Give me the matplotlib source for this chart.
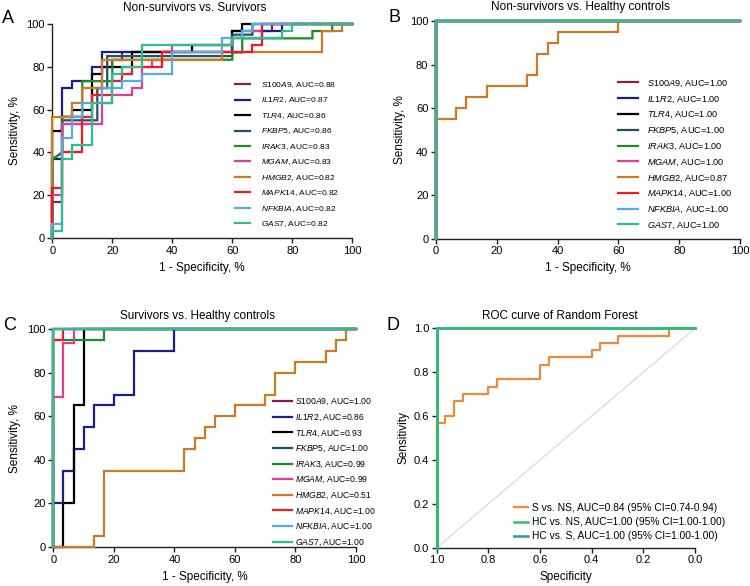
import matplotlib
matplotlib.use('Agg')
import matplotlib.pyplot as plt

plt.rcParams['font.family'] = ['Liberation Sans', 'DejaVu Sans']
plt.rcParams['mathtext.fontset'] = 'custom'
plt.rcParams['mathtext.it'] = 'Liberation Sans:italic'
plt.rcParams['mathtext.rm'] = 'Liberation Sans'
plt.rcParams['mathtext.default'] = 'regular'

# ---------------- data ----------------
genes = ['S100A9', 'IL1R2', 'TLR4', 'FKBP5', 'IRAK3', 'MGAM', 'HMGB2', 'MAPK14', 'NFKBIA', 'GAS7']
gene_colors = ['#8B1C48', '#1B1F8A', '#000000', '#1E5366', '#1E8B24',
               '#E23D95', '#CD7A25', '#EE1C24', '#5AA9E6', '#2BBF8A']

auc_a = [0.88, 0.87, 0.86, 0.86, 0.83, 0.83, 0.82, 0.82, 0.82, 0.82]
auc_b = [1.00, 1.00, 1.00, 1.00, 1.00, 1.00, 0.87, 1.00, 1.00, 1.00]
auc_c = [1.00, 0.86, 0.93, 1.00, 0.99, 0.99, 0.51, 1.00, 1.00, 1.00]

# Panel A: Non-survivors vs. Survivors  (1-specificity %, sensitivity %)
A_S100A9 = [(0, 0), (0, 16.7), (3.3, 16.7), (3.3, 53.3), (13.3, 53.3), (13.3, 70), (16.7, 70), (16.7, 80),
            (20, 80), (20, 83.3), (23.3, 83.3), (23.3, 86.7), (60, 86.7), (60, 93.3), (70, 93.3),
            (70, 96.7), (73.3, 96.7), (73.3, 100), (100, 100)]
A_IL1R2 = [(0, 0), (0, 36.7), (3.3, 36.7), (3.3, 70), (6.7, 70), (6.7, 73.3), (13.3, 73.3), (13.3, 80),
           (16.7, 80), (16.7, 86.7), (60, 86.7), (60, 96.7), (76.7, 96.7), (76.7, 100), (100, 100)]
A_TLR4 = [(0, 0), (0, 50), (3.3, 50), (3.3, 56.7), (6.7, 56.7), (6.7, 60), (13.3, 60), (13.3, 76.7),
          (16.7, 76.7), (16.7, 80), (26.7, 80), (26.7, 86.7), (46.7, 86.7), (46.7, 90), (60, 90),
          (60, 96.7), (63.3, 96.7), (63.3, 100), (100, 100)]
A_FKBP5 = [(0, 0), (0, 36.7), (3.3, 40), (3.3, 55), (15, 55), (15, 70), (18.3, 70), (18.3, 85),
           (60, 85), (60, 95), (66.7, 95), (66.7, 100), (100, 100)]
A_IRAK3 = [(0, 0), (0, 36.7), (3.3, 40), (3.3, 56.7), (10, 56.7), (10, 73.3), (20, 73.3), (20, 83.3),
           (60, 83.3), (60, 86.7), (63.3, 86.7), (63.3, 93.3), (86.7, 93.3), (86.7, 96.7), (93.3, 96.7),
           (93.3, 100), (100, 100)]
A_MGAM = [(0, 0), (0, 20), (3.3, 20), (3.3, 53.3), (16.7, 53.3), (16.7, 63.3), (20, 63.3), (20, 66.7),
          (26.7, 66.7), (26.7, 70), (30, 70), (30, 80), (33.3, 80), (33.3, 83.3), (40, 83.3), (40, 90),
          (60, 90), (60, 93.3), (63.3, 93.3), (63.3, 96.7), (70, 96.7), (70, 100), (100, 100)]
A_HMGB2 = [(0, 0), (0, 56.7), (6.7, 56.7), (6.7, 63.3), (10, 63.3), (10, 70), (16.7, 70), (16.7, 83.3),
           (56.7, 83.3), (56.7, 86.7), (90, 86.7), (90, 96.7), (96.7, 96.7), (96.7, 100), (100, 100)]
A_MAPK14 = [(0, 0), (0, 23.3), (3.3, 23.3), (3.3, 40), (10, 40), (10, 56.7), (13.3, 56.7), (13.3, 66.7),
            (20, 66.7), (20, 73.3), (23.3, 73.3), (23.3, 76.7), (26.7, 76.7), (26.7, 80), (36.7, 80),
            (36.7, 86.7), (66.7, 86.7), (66.7, 90), (70, 90), (70, 100), (100, 100)]
A_NFKBIA = [(0, 0), (0, 6.7), (3.3, 6.7), (3.3, 46.7), (6.7, 46.7), (6.7, 56.7), (10, 56.7), (10, 63.3),
            (16.7, 63.3), (16.7, 70), (23.3, 70), (23.3, 73.3), (30, 73.3), (30, 76.7), (40, 76.7),
            (40, 86.7), (56.7, 86.7), (56.7, 93.3), (63.3, 93.3), (63.3, 96.7), (66.7, 96.7),
            (66.7, 100), (100, 100)]
A_GAS7 = [(0, 0), (0, 3.3), (3.3, 3.3), (3.3, 36.7), (6.7, 36.7), (6.7, 43.3), (13.3, 43.3), (13.3, 63.3),
          (20, 63.3), (20, 76.7), (23.3, 76.7), (23.3, 80), (30, 80), (30, 90), (60, 90), (60, 93.3),
          (76.7, 93.3), (76.7, 96.7), (80, 96.7), (80, 100), (100, 100)]

# perfect classifier curve (used in B and C)
PERFECT = [(0, 0), (0, 100), (100, 100)]

# Panel B: Non-survivors vs. Healthy controls
B_HMGB2 = [(0, 0), (0, 55), (6.7, 55), (6.7, 60), (10, 60), (10, 65), (16.7, 65), (16.7, 70), (30, 70),
           (30, 75), (33.3, 75), (33.3, 85), (36.7, 85), (36.7, 90), (40, 90), (40, 95), (60, 95),
           (60, 100), (100, 100)]

# Panel C: Survivors vs. Healthy controls
C_IL1R2 = [(0, 0), (0, 20), (3.3, 20), (3.3, 35), (6.7, 35), (6.7, 45), (10, 45), (10, 55), (13.3, 55),
           (13.3, 65), (20, 65), (20, 70), (26.7, 70), (26.7, 90), (40, 90), (40, 100), (100, 100)]
C_TLR4 = [(0, 0), (3.3, 0), (3.3, 20), (6.7, 20), (6.7, 65), (10, 65), (10, 100), (100, 100)]
C_IRAK3 = [(0, 0), (0, 95), (16.7, 95), (16.7, 100), (100, 100)]
C_MGAM = [(0, 0), (0, 68.75), (3.3, 68.75), (3.3, 93.75), (6.7, 93.75), (6.7, 100), (100, 100)]
C_HMGB2 = [(0, 0), (13.3, 0), (13.3, 5), (16.7, 5), (16.7, 35), (43.3, 35), (43.3, 45), (46.7, 45),
           (46.7, 50), (50, 50), (50, 55), (53.3, 55), (53.3, 60), (60, 60), (60, 65), (70, 65), (70, 70),
           (73.3, 70), (73.3, 80), (80, 80), (80, 85), (90, 85), (90, 90), (93.3, 90), (93.3, 95),
           (96.7, 95), (96.7, 100), (100, 100)]
C_MAPK14 = [(0, 0), (0, 95), (3.3, 95), (3.3, 100), (100, 100)]

# Panel D: Random forest ROC (specificity, sensitivity)
D_labels = ['S vs. NS, AUC=0.84 (95% CI=0.74-0.94)',
            'HC vs. NS, AUC=1.00 (95% CI=1.00-1.00)',
            'HC vs. S, AUC=1.00 (95% CI=1.00-1.00)']
D_colors = ['#EE8A3A', '#2DBE6C', '#2A97B5']
D_S_NS = [(1.0, 0.0), (1.0, 0.567), (0.967, 0.567), (0.967, 0.6), (0.933, 0.6), (0.933, 0.667),
          (0.9, 0.667), (0.9, 0.7), (0.8, 0.7), (0.8, 0.733), (0.767, 0.733), (0.767, 0.767),
          (0.6, 0.767), (0.6, 0.833), (0.567, 0.833), (0.567, 0.867), (0.4, 0.867), (0.4, 0.9),
          (0.367, 0.9), (0.367, 0.933), (0.3, 0.933), (0.3, 0.967), (0.1, 0.967), (0.1, 1.0), (0.0, 1.0)]
D_HC_NS = [(1.0, 0.0), (1.0, 1.0), (0.0, 1.0)]
D_HC_S = [(1.0, 0.0), (1.0, 1.0), (0.0, 1.0)]
D_REF = [(1.0, 0.0), (0.0, 1.0)]

curves_a = [A_S100A9, A_IL1R2, A_TLR4, A_FKBP5, A_IRAK3, A_MGAM, A_HMGB2, A_MAPK14, A_NFKBIA, A_GAS7]
curves_b = [PERFECT] * 6 + [B_HMGB2] + [PERFECT] * 3
curves_c = [PERFECT, C_IL1R2, C_TLR4, PERFECT, C_IRAK3, C_MGAM, C_HMGB2, C_MAPK14, PERFECT, PERFECT]

# ---------------- figure ----------------
W, H = 750, 586
fig = plt.figure(figsize=(W / 100, H / 100), dpi=100)


def axes_px(l, t, r, b):
    return fig.add_axes([l / W, 1 - b / H, (r - l) / W, (b - t) / H])


def style(ax):
    for s in ['top', 'right']:
        ax.spines[s].set_visible(False)
    for s in ['left', 'bottom']:
        ax.spines[s].set_linewidth(1.0)
        ax.spines[s].set_color('#222222')
    ax.tick_params(length=3.5, width=1.0, labelsize=8, pad=2, color='#222222')


def xy(pts):
    return [p[0] for p in pts], [p[1] for p in pts]


def gene_panel(ax, curves, aucs, leg_x, leg_y, hl, htp, ls, fs, xlab_y, ylab_x):
    ax.set_xlim(0, 100)
    ax.set_ylim(0, 100)
    ax.set_xticks([0, 20, 40, 60, 80, 100])
    ax.set_yticks([0, 20, 40, 60, 80, 100])
    style(ax)
    handles = []
    for i, (g, c, pts, a) in enumerate(zip(genes, gene_colors, curves, aucs)):
        xs, ys = xy(pts)
        ln, = ax.plot(xs, ys, color=c, lw=1.6, clip_on=False, zorder=3 + i,
                      solid_joinstyle='miter', label=r'$\it{' + g + '}$' + ', AUC=%.2f' % a)
        handles.append(ln)
    ax.legend(handles=handles, loc='upper left', bbox_to_anchor=(leg_x / W, 1 - leg_y / H),
              bbox_transform=fig.transFigure, frameon=False, fontsize=fs, borderpad=0,
              borderaxespad=0, handlelength=hl, handletextpad=htp, labelspacing=ls)
    ax.set_xlabel('1 - Specificity, %', fontsize=8.5, va='center')
    ax.set_ylabel('Sensitivity, %', fontsize=8.5, va='center')
    ax.xaxis.set_label_coords(0.5, xlab_y)
    ax.yaxis.set_label_coords(ylab_x, 0.5)


# Panel A
axA = axes_px(52.3, 24, 352.3, 238)
gene_panel(axA, curves_a, auc_a, 235, 80, 1.8, 1.3, 0.67, 6.0, -0.14, -0.124)
# Panel B
axB = axes_px(436, 21, 740, 238.7)
gene_panel(axB, curves_b, auc_b, 618, 77.5, 2.18, 0.98, 0.48, 6.6, -0.135, -0.118)
# Panel C
axC = axes_px(53.3, 329.3, 356, 547)
gene_panel(axC, curves_c, auc_c, 273, 396, 2.2, 0.3, 0.49, 6.2, -0.136, -0.127)

# Panel D
axD = axes_px(436.7, 328.3, 695, 547.7)
axD.set_xlim(1.0, 0.0)
axD.set_ylim(0.0, 1.0)
ticks = [1.0, 0.8, 0.6, 0.4, 0.2, 0.0]
axD.set_xticks(ticks)
axD.set_xticklabels(['%.1f' % t for t in ticks])
axD.set_yticks(ticks)
axD.set_yticklabels(['%.1f' % t for t in ticks])
style(axD)
rx, ry = xy(D_REF)
axD.plot(rx, ry, color='#D5D5D5', lw=0.8, zorder=2)
x1, y1 = xy(D_S_NS)
l1, = axD.plot(x1, y1, color=D_colors[0], lw=1.6, clip_on=False, zorder=3, label=D_labels[0])
x3, y3 = xy(D_HC_S)
l3, = axD.plot(x3, y3, color=D_colors[2], lw=1.8, clip_on=False, zorder=4, label=D_labels[2])
x2, y2 = xy(D_HC_NS)
l2, = axD.plot(x2, y2, color=D_colors[1], lw=1.8, clip_on=False, zorder=5, label=D_labels[1])
axD.legend(handles=[l1, l2, l3], loc='upper left', bbox_to_anchor=(514 / W, 1 - 503 / H),
           bbox_transform=fig.transFigure, frameon=False, fontsize=7.4, borderpad=0,
           borderaxespad=0, handlelength=1.35, handletextpad=0.4, labelspacing=0.4)
axD.set_xlabel('Specificity', fontsize=8.5, va='center')
axD.set_ylabel('Sensitivity', fontsize=8.5, va='center')
axD.xaxis.set_label_coords(0.5, -0.135)
axD.yaxis.set_label_coords(-0.129, 0.5)

# titles
for cx, by, t in [(195, 11, 'Non-survivors vs. Survivors'),
                  (580, 10, 'Non-survivors vs. Healthy controls'),
                  (197, 319, 'Survivors vs. Healthy controls'),
                  (560, 319, 'ROC curve of Random Forest')]:
    fig.text(cx / W, 1 - by / H, t, ha='center', va='baseline', fontsize=8.5)

# panel letters
for lx, by, t in [(2, 23, 'A'), (388, 22, 'B'), (3, 330, 'C'), (387, 330, 'D')]:
    fig.text(lx / W, 1 - by / H, t, ha='left', va='baseline', fontsize=13)

fig.savefig('out.png', dpi=100)
